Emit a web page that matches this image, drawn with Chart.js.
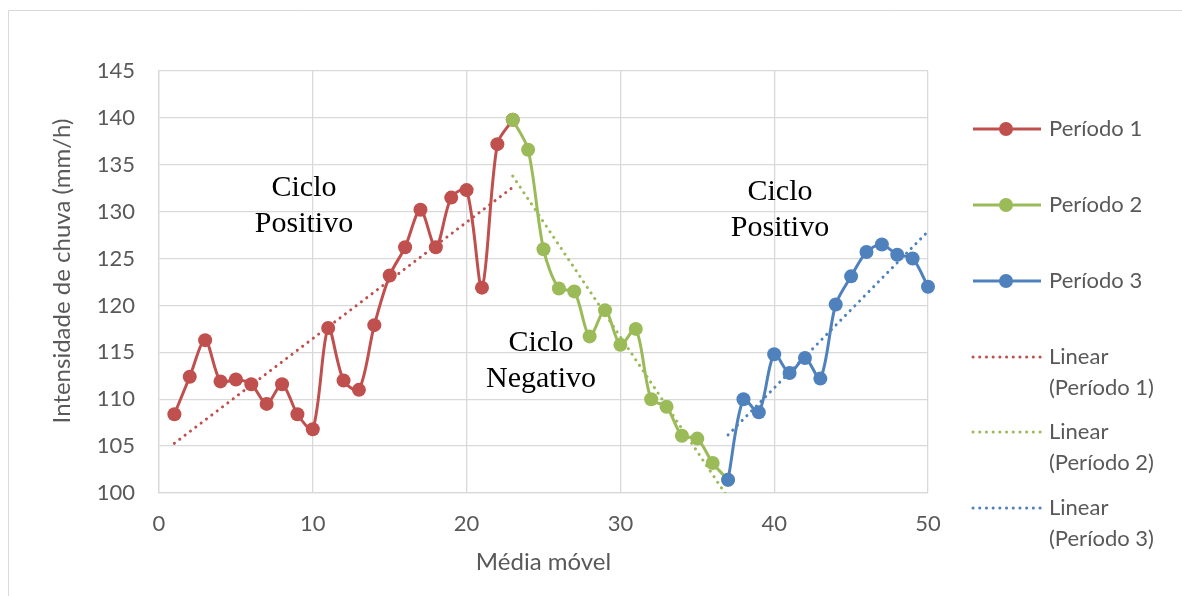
<!DOCTYPE html>
<html>
<head>
<meta charset="utf-8">
<script src="https://cdn.jsdelivr.net/npm/chart.js@4.4.1/dist/chart.umd.min.js"></script>
<style>
  html, body { margin: 0; padding: 0; background: #fff; }
  #wrap { width: 1182px; height: 596px; }
</style>
</head>
<body>
<div id="wrap"><canvas id="chuvaChart" width="1182" height="596"></canvas></div>
<script>
// Dados
const periodo1X = [1, 2, 3, 4, 5, 6, 7, 8, 9, 10, 11, 12, 13, 14, 15, 16, 17, 18, 19, 20, 21, 22, 23];
const periodo1Y = [108.4, 112.4, 116.3, 111.9, 112.1, 111.6, 109.5, 111.6, 108.4, 106.8, 117.6, 112.0,
                   111.0, 117.9, 123.2, 126.2, 130.2, 126.2, 131.5, 132.3, 121.9, 137.2, 139.8];

const periodo2X = [23, 24, 25, 26, 27, 28, 29, 30, 31, 32, 33, 34, 35, 36, 37];
const periodo2Y = [139.8, 136.6, 126.0, 121.8, 121.5, 116.7, 119.5, 115.8, 117.5, 110.0, 109.2, 106.1,
                   105.8, 103.2, 101.4];

const periodo3X = [37, 38, 39, 40, 41, 42, 43, 44, 45, 46, 47, 48, 49, 50];
const periodo3Y = [101.4, 110.0, 108.6, 114.8, 112.8, 114.4, 112.2, 120.1, 123.1, 125.7, 126.5, 125.4,
                   125.0, 122.0];

// Linhas de tendência (extremos)
const tendencia1X = [1, 23];
const tendencia1Y = [105.3, 132.6];
const tendencia2X = [23, 37];
const tendencia2Y = [133.8, 99.5];
const tendencia3X = [37, 50];
const tendencia3Y = [106.2, 127.9];

const xTicks = [0, 10, 20, 30, 40, 50];
const yTicks = [100, 105, 110, 115, 120, 125, 130, 135, 140, 145];

const RED = '#C0504D';
const GREEN = '#9BBB59';
const BLUE = '#4F81BD';
const SANS = 'Lato, "Open Sans", sans-serif';

function pts(xs, ys) {
    return xs.map((x, i) => ({ x: x, y: ys[i] }));
}

function serie(label, xs, ys, color, order) {
    return {
        label: label,
        data: pts(xs, ys),
        borderColor: color,
        backgroundColor: color,
        borderWidth: 3,
        pointRadius: 7,
        pointHoverRadius: 7,
        pointBorderWidth: 0,
        tension: 0.3,
        clip: false,
        order: order
    };
}

function tendencia(label, xs, ys, color, order) {
    return {
        label: label,
        data: pts(xs, ys),
        borderColor: color,
        borderWidth: 3,
        borderDash: [0.1, 6.6],
        borderCapStyle: 'round',
        pointRadius: 0,
        tension: 0,
        order: order
    };
}

// textos, legenda e moldura
const extras = {
    id: 'extras',
    beforeDraw(chart) {
        const ctx = chart.ctx;
        ctx.save();
        ctx.strokeStyle = '#D9D9D9';
        ctx.lineWidth = 1;
        ctx.beginPath();
        ctx.moveTo(8.5, 596);
        ctx.lineTo(8.5, 10.5);
        ctx.lineTo(1182, 10.5);
        ctx.stroke();
        ctx.restore();
    },
    afterDraw(chart) {
        const ctx = chart.ctx;
        ctx.save();

        // título do eixo y
        ctx.fillStyle = '#595959';
        ctx.font = '24px ' + SANS;
        ctx.textAlign = 'center';
        ctx.textBaseline = 'middle';
        ctx.translate(62, 271);
        ctx.rotate(-Math.PI / 2);
        ctx.fillText('Intensidade de chuva (mm/h)', 0, 0);
        ctx.setTransform(1, 0, 0, 1, 0, 0);

        // anotações
        ctx.fillStyle = '#000';
        ctx.font = '30px "Liberation Serif", "Times New Roman", serif';
        ctx.textBaseline = 'alphabetic';
        [[304, 196, 'Ciclo', 'Positivo'], [541, 351, 'Ciclo', 'Negativo'], [780, 200, 'Ciclo', 'Positivo']]
            .forEach(a => {
                ctx.fillText(a[2], a[0], a[1]);
                ctx.fillText(a[3], a[0], a[1] + 36);
            });

        // legenda
        const ds = chart.data.datasets;
        const rows = [129, 205, 281, 357, 432, 508];
        ctx.textAlign = 'left';
        ctx.textBaseline = 'middle';
        ctx.font = '22px ' + SANS;
        ds.forEach((d, i) => {
            const y = rows[i];
            ctx.strokeStyle = d.borderColor;
            ctx.lineWidth = 3;
            if (d.borderDash) {
                ctx.setLineDash(d.borderDash);
                ctx.lineCap = 'round';
            } else {
                ctx.setLineDash([]);
                ctx.lineCap = 'butt';
            }
            ctx.beginPath();
            ctx.moveTo(973, y);
            ctx.lineTo(1041, y);
            ctx.stroke();
            ctx.setLineDash([]);
            if (!d.borderDash) {
                ctx.fillStyle = d.borderColor;
                ctx.beginPath();
                ctx.arc(1006, y, 7, 0, Math.PI * 2);
                ctx.fill();
            }
            ctx.fillStyle = '#595959';
            const parts = d.label.split('\n');
            parts.forEach((t, j) => ctx.fillText(t, 1049, y + j * 31));
        });
        ctx.restore();
    }
};

new Chart(document.getElementById('chuvaChart'), {
    type: 'line',
    data: {
        datasets: [
            serie('Período 1', periodo1X, periodo1Y, RED, 3),
            serie('Período 2', periodo2X, periodo2Y, GREEN, 2),
            serie('Período 3', periodo3X, periodo3Y, BLUE, 1),
            tendencia('Linear\n(Período 1)', tendencia1X, tendencia1Y, RED, 4),
            tendencia('Linear\n(Período 2)', tendencia2X, tendencia2Y, GREEN, 5),
            tendencia('Linear\n(Período 3)', tendencia3X, tendencia3Y, BLUE, 6)
        ]
    },
    options: {
        responsive: false,
        animation: false,
        layout: { padding: { left: 0, top: 71, right: 254, bottom: 0 } },
        plugins: {
            legend: { display: false },
            tooltip: { enabled: false }
        },
        scales: {
            x: {
                type: 'linear',
                min: 0,
                max: 50,
                afterFit: s => { s.height = 103; },
                afterBuildTicks: s => { s.ticks = xTicks.map(v => ({ value: v })); },
                grid: { color: '#D9D9D9', lineWidth: 1.3, drawTicks: false },
                border: { color: '#D9D9D9', width: 1.3 },
                ticks: { color: '#595959', font: { family: SANS, size: 22 }, padding: 18, maxRotation: 0 },
                title: {
                    display: true,
                    text: 'Média móvel',
                    color: '#595959',
                    font: { family: SANS, size: 24 },
                    padding: { top: 0, bottom: 19 }
                }
            },
            y: {
                min: 100,
                max: 145,
                afterFit: s => { s.width = 159; },
                afterBuildTicks: s => { s.ticks = yTicks.map(v => ({ value: v })); },
                grid: { color: '#D9D9D9', lineWidth: 1.3, drawTicks: false },
                border: { color: '#D9D9D9', width: 1.3 },
                ticks: { color: '#595959', font: { family: SANS, size: 22 }, padding: 24 }
            }
        }
    },
    plugins: [extras]
});
</script>
</body>
</html>
